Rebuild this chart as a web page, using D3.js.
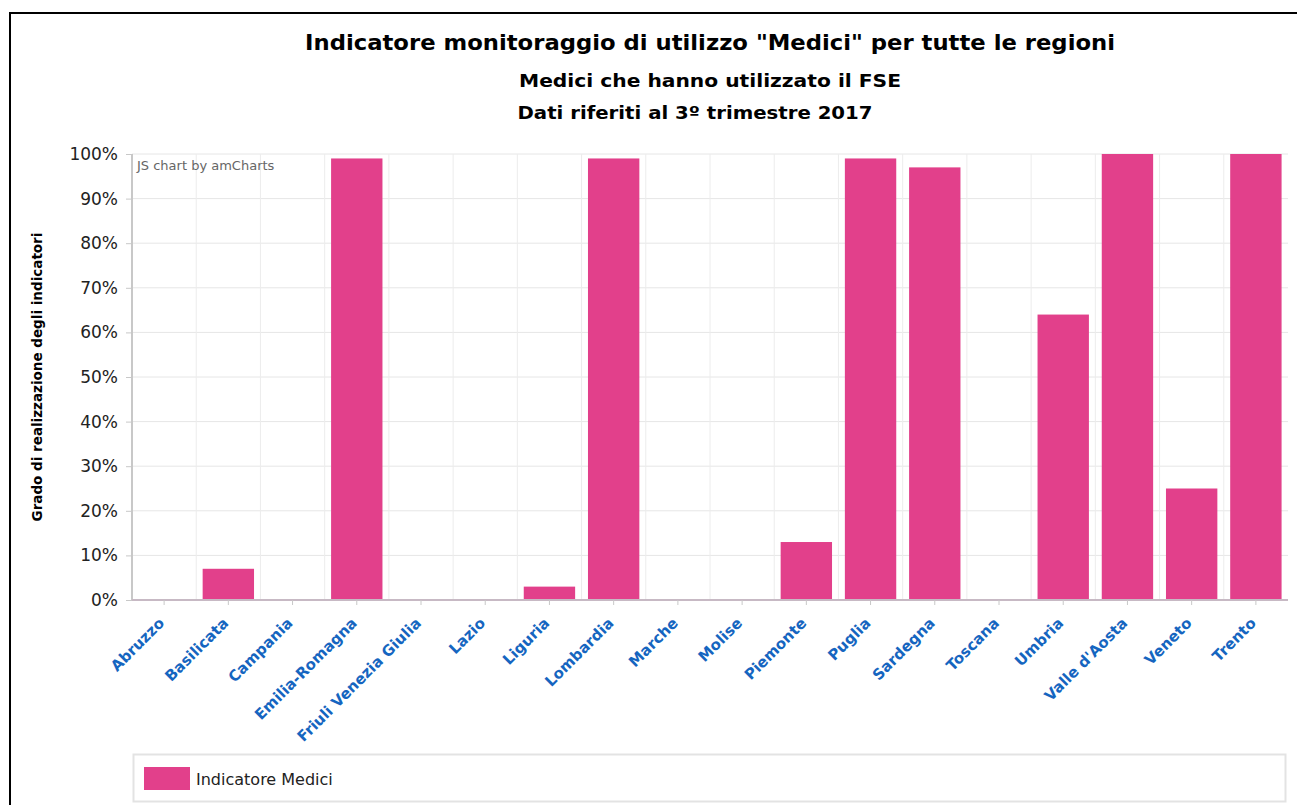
<!DOCTYPE html>
<html>
<head>
<meta charset="utf-8">
<script src="https://cdn.jsdelivr.net/npm/d3@7"></script>
<style>
  html, body { margin: 0; padding: 0; background: #fff; }
  svg { display: block; }
</style>
</head>
<body>
<svg id="chart" width="1297" height="805"></svg>
<script>
// Regions and the share of doctors who used the FSE (percent)
const regions = [
  "Abruzzo", "Basilicata", "Campania", "Emilia-Romagna", "Friuli Venezia Giulia",
  "Lazio", "Liguria", "Lombardia", "Marche", "Molise", "Piemonte", "Puglia",
  "Sardegna", "Toscana", "Umbria", "Valle d'Aosta", "Veneto", "Trento"
];
const indicatoreMedici = [0, 7, 0, 99, 0, 0, 3, 99, 0, 0, 13, 99, 97, 0, 64, 100, 25, 100];
const yTicks = [0, 10, 20, 30, 40, 50, 60, 70, 80, 90, 100];

const titleText = 'Indicatore monitoraggio di utilizzo "Medici" per tutte le regioni';
const subtitleText = "Medici che hanno utilizzato il FSE";
const periodText = "Dati riferiti al 3º trimestre 2017";
const yAxisTitle = "Grado di realizzazione degli indicatori";
const legendLabel = "Indicatore Medici";

const barColor = "#e2408b";
const labelColor = "#1565c0";
const font = "'DejaVu Sans', Verdana, sans-serif";

const svg = d3.select("#chart");

// frame around the chart (left and top edges visible)
svg.append("path")
  .attr("d", "M10,805 V13 H1297")
  .attr("fill", "none")
  .attr("stroke", "#000")
  .attr("stroke-width", 2);

const plot = { left: 132, right: 1288, top: 154, bottom: 600 };

const x = d3.scaleBand()
  .domain(regions)
  .range([plot.left, plot.right])
  .paddingInner(0.2)
  .paddingOuter(0.1);

const xCat = d3.scaleBand().domain(regions).range([plot.left, plot.right]);

const y = d3.scaleLinear().domain([0, 100]).range([plot.bottom, plot.top]);

// titles
const titles = svg.append("g").attr("font-family", font).attr("font-weight", "bold")
  .attr("text-anchor", "middle").attr("fill", "#000");
titles.append("text").attr("x", 710).attr("y", 50).attr("font-size", 22)
  .attr("textLength", 810).attr("lengthAdjust", "spacingAndGlyphs").text(titleText);
titles.append("text").attr("x", 710).attr("y", 87).attr("font-size", 18)
  .attr("textLength", 382).attr("lengthAdjust", "spacingAndGlyphs").text(subtitleText);
titles.append("text").attr("x", 695).attr("y", 119).attr("font-size", 17)
  .attr("textLength", 355).attr("lengthAdjust", "spacingAndGlyphs").text(periodText);

// horizontal grid
svg.append("g")
  .selectAll("line")
  .data(yTicks)
  .join("line")
  .attr("x1", plot.left).attr("x2", plot.right)
  .attr("y1", d => y(d)).attr("y2", d => y(d))
  .attr("stroke", "#e6e6e6").attr("stroke-width", 1);

// vertical grid at category boundaries
svg.append("g")
  .selectAll("line")
  .data(regions.slice(1))
  .join("line")
  .attr("x1", d => xCat(d)).attr("x2", d => xCat(d))
  .attr("y1", plot.top).attr("y2", plot.bottom)
  .attr("stroke", "#ececec").attr("stroke-width", 1);

// y axis
const yAxis = d3.axisLeft(y).tickValues(yTicks).tickFormat(d => d + "%").tickSize(6).tickPadding(8);
const yg = svg.append("g").attr("transform", `translate(${plot.left},0)`).call(yAxis);
yg.select(".domain").attr("stroke", "#c8c8c8").attr("stroke-width", 2).attr("d", `M0,${plot.top}V${plot.bottom}`);
yg.selectAll(".tick line").attr("stroke", "#c8c8c8");
yg.selectAll(".tick text").attr("font-family", font).attr("font-size", 17).attr("fill", "#222");

// bars
svg.append("g")
  .selectAll("rect")
  .data(regions.map((r, i) => ({ region: r, value: indicatoreMedici[i] })))
  .join("rect")
  .attr("x", d => x(d.region))
  .attr("width", x.bandwidth())
  .attr("y", d => y(d.value))
  .attr("height", d => y(0) - y(d.value))
  .attr("fill", barColor);

// x axis
const xAxis = d3.axisBottom(xCat).tickSize(5).tickPadding(4);
const xg = svg.append("g").attr("transform", `translate(0,${plot.bottom})`).call(xAxis);
xg.select(".domain").attr("stroke", "#c7b9c4").attr("stroke-width", 2).attr("d", `M${plot.left},0H${plot.right}`);
xg.selectAll(".tick line").attr("stroke", "#c8c8c8");
xg.selectAll(".tick text")
  .attr("font-family", font).attr("font-size", 15).attr("font-weight", "bold")
  .attr("fill", labelColor)
  .attr("text-anchor", "end")
  .attr("dy", "0.35em")
  .attr("transform", "translate(-9,14) rotate(-45)");

// credit text
svg.append("text")
  .attr("x", plot.left + 5).attr("y", plot.top + 16)
  .attr("font-family", font).attr("font-size", 13).attr("fill", "#666")
  .text("JS chart by amCharts");

// y axis title
svg.append("text")
  .attr("transform", `translate(42,${(plot.top + plot.bottom) / 2}) rotate(-90)`)
  .attr("text-anchor", "middle")
  .attr("font-family", font).attr("font-size", 13.5).attr("font-weight", "bold").attr("fill", "#000")
  .text(yAxisTitle);

// legend
const legend = svg.append("g");
legend.append("rect")
  .attr("x", 133.5).attr("y", 754.5).attr("width", 1152).attr("height", 47)
  .attr("fill", "#fff").attr("stroke", "#e3e3e3").attr("stroke-width", 2);
legend.append("rect")
  .attr("x", 144).attr("y", 767).attr("width", 46).attr("height", 23)
  .attr("fill", barColor);
legend.append("text")
  .attr("x", 196).attr("y", 785)
  .attr("font-family", font).attr("font-size", 16).attr("fill", "#222")
  .text(legendLabel);
</script>
</body>
</html>
